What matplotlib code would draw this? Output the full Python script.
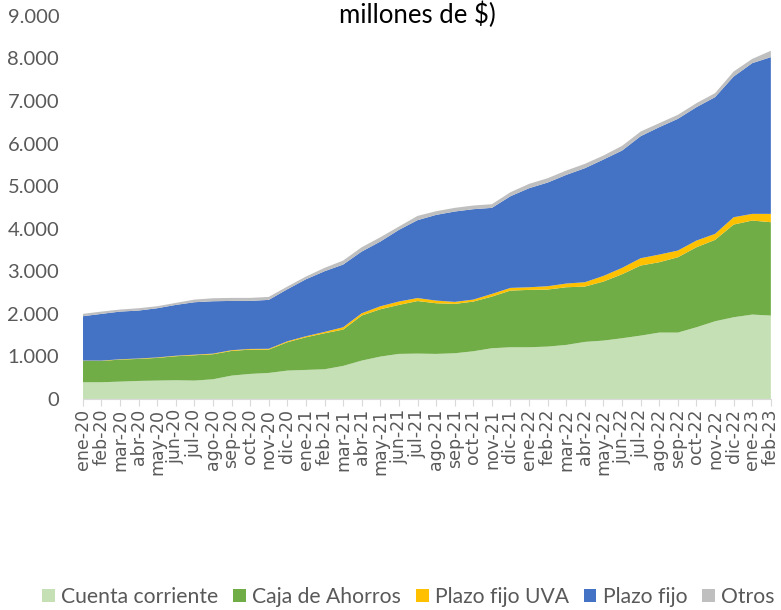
import matplotlib
matplotlib.use("Agg")
from matplotlib import pyplot as plt
from matplotlib.ticker import FuncFormatter
import numpy as np

# Meses (ene-20 a feb-23)
meses = ['ene-20', 'feb-20', 'mar-20', 'abr-20', 'may-20', 'jun-20', 'jul-20',
         'ago-20', 'sep-20', 'oct-20', 'nov-20', 'dic-20', 'ene-21', 'feb-21',
         'mar-21', 'abr-21', 'may-21', 'jun-21', 'jul-21', 'ago-21', 'sep-21',
         'oct-21', 'nov-21', 'dic-21', 'ene-22', 'feb-22', 'mar-22', 'abr-22',
         'may-22', 'jun-22', 'jul-22', 'ago-22', 'sep-22', 'oct-22', 'nov-22',
         'dic-22', 'ene-23', 'feb-23']

# Depositos (miles de millones de $)
cuenta_corriente = [392, 392, 407, 423, 431, 439, 431, 462, 548, 588, 611, 666,
                    682, 697, 776, 901, 995, 1058, 1065, 1058, 1073, 1120, 1191,
                    1214, 1214, 1230, 1269, 1340, 1371, 1426, 1488, 1559, 1559,
                    1684, 1825, 1919, 1982, 1959]
caja_ahorros = [501, 501, 517, 517, 533, 564, 595, 588, 580, 571, 548, 666,
                767, 846, 853, 1058, 1112, 1151, 1235, 1190, 1160, 1167, 1214,
                1332, 1348, 1340, 1355, 1300, 1387, 1504, 1646, 1653, 1770,
                1880, 1912, 2178, 2209, 2193]
plazo_fijo_uva = [8, 7, 8, 10, 11, 12, 14, 15, 17, 16, 19, 23, 24, 32, 55, 54,
                  70, 80, 70, 63, 47, 47, 63, 63, 62, 78, 87, 102, 133, 149,
                  172, 180, 157, 157, 141, 172, 157, 196]
plazo_fijo = [1042, 1098, 1120, 1126, 1156, 1194, 1232, 1230, 1158, 1128, 1149,
              1222, 1339, 1425, 1473, 1450, 1520, 1683, 1830, 2013, 2123, 2124,
              2021, 2154, 2327, 2436, 2553, 2679, 2734, 2757, 2867, 2993, 3095,
              3134, 3212, 3306, 3541, 3682]
otros = [55, 54, 48, 55, 47, 47, 62, 71, 71, 71, 70, 63, 63, 79, 94, 101, 101,
         78, 100, 86, 86, 86, 86, 94, 102, 102, 102, 102, 94, 110, 110, 94, 94,
         94, 94, 118, 100, 150]

series = ['Cuenta corriente', 'Caja de Ahorros', 'Plazo fijo UVA', 'Plazo fijo', 'Otros']
colores = ['#c5e0b4', '#70ad47', '#ffc000', '#4472c4', '#bfbfbf']


def main():
    fuente = ['Lato', 'DejaVu Sans']
    gris = '#595959'

    fig = plt.figure(figsize=(7.81, 6.10), dpi=100)
    ax = fig.add_axes([0.106, 0.346, 0.881, 0.628])

    x = np.arange(len(meses))
    ax.stackplot(x, cuenta_corriente, caja_ahorros, plazo_fijo_uva, plazo_fijo, otros,
                 colors=colores, labels=series, linewidth=0)

    ax.set_xlim(0, len(meses) - 1)
    ax.set_ylim(0, 9000)
    ax.set_yticks(np.arange(0, 9001, 1000))
    ax.yaxis.set_major_formatter(FuncFormatter(lambda v, p: f'{v:,.0f}'.replace(',', '.')))
    ax.set_xticks(x)
    ax.set_xticklabels(meses, rotation=90, fontsize=12.5, color=gris, family='DejaVu Sans')
    for lab in ax.get_yticklabels():
        lab.set_family(fuente)
        lab.set_fontsize(14.5)
        lab.set_color(gris)

    ax.tick_params(axis='y', length=0, pad=17)
    ax.tick_params(axis='x', length=5, color='#d9d9d9', pad=2)
    for s in ['top', 'right', 'left']:
        ax.spines[s].set_visible(False)
    ax.spines['bottom'].set_color('#d9d9d9')

    fig.text(0.534, 0.975, 'millones de $)', ha='center', va='center', fontsize=18.5,
             family=fuente, color='black')

    fig.legend(loc='center', bbox_to_anchor=(0.523, 0.021), ncol=5, frameon=False,
               prop={'family': fuente, 'size': 15.2}, labelcolor=gris,
               handlelength=0.6, handleheight=0.6, handletextpad=0.3, columnspacing=0.7)

    fig.savefig('out.png', dpi=100)


if __name__ == "__main__":
    main()
